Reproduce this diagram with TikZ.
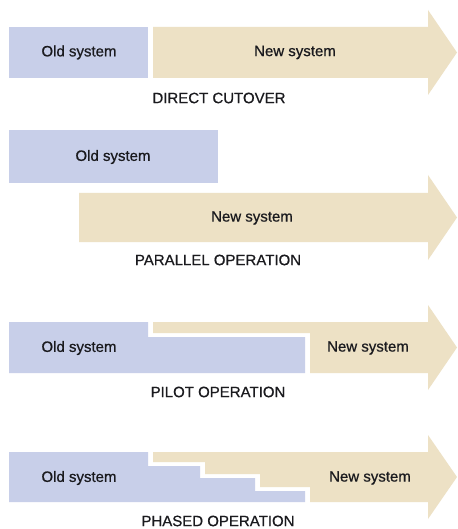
\documentclass[tikz,border=0pt]{standalone}
\usepackage{fontspec}
\setmainfont{Liberation Sans}
\newfontfamily\lblfont[FakeBold=0.7]{Liberation Sans}
\definecolor{oldc}{HTML}{C8CFE9}
\definecolor{newc}{HTML}{EDE1C5}
\definecolor{txt}{HTML}{1A1A1E}
\begin{document}
\begin{tikzpicture}[x=1pt,y=-1pt,
  oldshape/.style={fill=oldc,draw=none},
  newshape/.style={fill=newc,draw=none},
  lbl/.style={text=txt,font=\lblfont\fontsize{15}{18}\selectfont,inner sep=0pt},
  captext/.style={text=txt,font=\lblfont\fontsize{15}{18}\selectfont,inner sep=0pt}]
\useasboundingbox[fill=white] (0,0) rectangle (457,529);
% 1 direct cutover
\fill[oldshape] (9,27) rectangle (148,78);
\fill[newshape] (153,27) -- (428,27) -- (428,10) -- (457,52.5) -- (428,95) -- (428,78) -- (153,78) -- cycle;
\node[lbl] (o1) at (79,52.5) {Old system};
\node[lbl] (n1) at (295,52.5) {New system};
\node[captext] (c1) at (219,98) {DIRECT CUTOVER};
% 2 parallel operation
\fill[oldshape] (9,130) rectangle (218,183);
\fill[newshape] (79,193) -- (428,193) -- (428,175) -- (457,217.5) -- (428,260) -- (428,242) -- (79,242) -- cycle;
\node[lbl] (o2) at (113,157) {Old system};
\node[lbl] (n2) at (252,218) {New system};
\node[captext] (c2) at (218,260) {PARALLEL OPERATION};
% 3 pilot operation
\fill[oldshape] (9,322) -- (148,322) -- (148,337) -- (305,337) -- (305,373) -- (9,373) -- cycle;
\fill[newshape] (153,322) -- (428,322) -- (428,305) -- (457,347.5) -- (428,390) -- (428,373) -- (310,373) -- (310,333) -- (153,333) -- cycle;
\node[lbl] (o3) at (79,348) {Old system};
\node[lbl] (n3) at (368,348) {New system};
\node[captext] (c3) at (218,392) {PILOT OPERATION};
% 4 phased operation
\fill[oldshape] (9,452) -- (148,452) -- (148,466) -- (200,466) -- (200,478) -- (255,478) -- (255,491) -- (305,491) -- (305,502) -- (9,502) -- cycle;
\fill[newshape] (153,452) -- (428,452) -- (428,435) -- (457,477) -- (428,519) -- (428,502) -- (310,502) -- (310,487) -- (260,487) -- (260,474) -- (205,474) -- (205,462) -- (153,462) -- cycle;
\node[lbl] (o4) at (79,478) {Old system};
\node[lbl] (n4) at (370,478) {New system};
\node[captext] (c4) at (218,521) {PHASED OPERATION};
\end{tikzpicture}
\end{document}
